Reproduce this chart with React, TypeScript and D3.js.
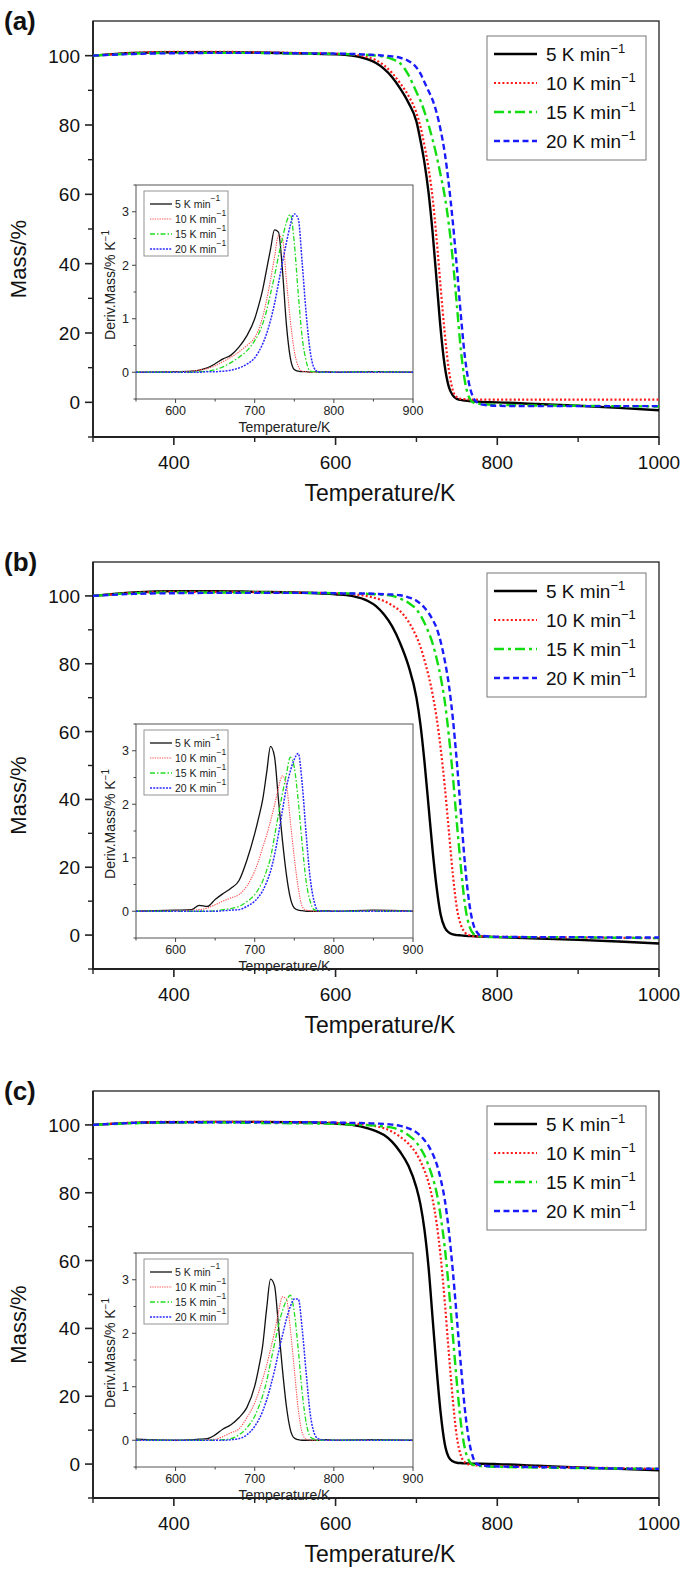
import React from 'react';
import * as d3 from 'd3';

// ---------- DATA ----------
const RATES = ['5', '10', '15', '20'];
const COLORS = ['#000000', '#ff1a1a', '#11dd11', '#1a1aff'];

const X_MAJOR = [400, 600, 800, 1000];
const X_MINOR = [300, 500, 700, 900];
const Y_MAJOR = [0, 20, 40, 60, 80, 100];
const Y_MINOR = [-10, 10, 30, 50, 70, 90];
const IX_MAJOR = [600, 700, 800, 900];
const IX_MINOR = [550, 650, 750, 850];
const IY_MAJOR = [0, 1, 2, 3];
const IY_MINOR = [-0.5, 0.5, 1.5, 2.5, 3.5];

// TG temperature grid (K)
const TG_T = [300, 350, 400, 450, 500, 550, 600, 620, 640, 650, 660, 670, 680, 690, 700, 705, 710, 715, 720, 725, 730, 735, 740, 745, 750, 755, 760, 765, 770, 775, 780, 800, 850, 900, 950, 1000];

// Panel (a) mass %
const TG_A_5 = [100, 100.8, 101.0, 101.0, 100.9, 100.7, 100.4, 100.0, 98.9, 97.9, 96.2, 93.8, 90.5, 86.5, 81, 75.5, 69, 60.5, 49, 35, 21, 10.5, 4.5, 2.0, 1.0, 0.7, 0.5, 0.4, 0.3, 0.2, 0.1, 0, -0.5, -1.0, -1.6, -2.3];
const TG_A_10 = [100, 100.8, 101.1, 101.1, 101.0, 100.8, 100.6, 100.4, 99.5, 98.7, 97.2, 95.0, 92.0, 88.5, 83.5, 79.5, 74, 67.5, 59, 47, 33, 20, 9.5, 3.5, 1.5, 1.0, 0.9, 0.85, 0.8, 0.8, 0.8, 0.8, 0.8, 0.8, 0.8, 0.8];
const TG_A_15 = [100, 100.6, 100.8, 100.8, 100.8, 100.6, 100.5, 100.4, 100.2, 100.0, 99.7, 99.0, 97.8, 94.5, 89.5, 87, 83.8, 80, 75.8, 71, 65.5, 59.5, 51.5, 41, 28, 15, 6, 1.5, 0, -0.3, -0.5, -0.7, -0.9, -1.0, -1.1, -1.2];
const TG_A_20 = [100, 100.5, 100.7, 100.8, 100.8, 100.7, 100.6, 100.5, 100.3, 100.2, 100.0, 99.8, 99.4, 98.5, 96.6, 94.8, 92.3, 89.8, 87.2, 83.5, 78.5, 72, 63, 52, 39, 25, 13, 5.5, 1.5, 0, -0.6, -1.0, -1.1, -1.1, -1.1, -1.1];

// Panel (b) mass %
const TG_B_5 = [100, 101.0, 101.4, 101.4, 101.2, 101.0, 100.5, 100.0, 98.5, 97.0, 94.5, 91.0, 86.0, 79.5, 70, 62, 51, 38, 25, 14, 6, 2.2, 0.8, 0.2, 0, -0.1, -0.2, -0.3, -0.3, -0.4, -0.4, -0.6, -1.0, -1.4, -1.9, -2.5];
const TG_B_10 = [100, 100.9, 101.2, 101.2, 101.1, 101.0, 100.8, 100.5, 99.9, 99.3, 98.5, 97.2, 95.5, 92.5, 88, 85, 81, 76.5, 71, 64, 55, 44, 31, 18, 8, 3, 0.8, 0, -0.3, -0.4, -0.4, -0.5, -0.6, -0.7, -0.8, -0.9];
const TG_B_15 = [100, 100.8, 101.0, 101.0, 101.0, 100.9, 100.8, 100.7, 100.6, 100.5, 100.3, 100.0, 99.2, 98.0, 96.0, 94.3, 92.0, 89.3, 86.0, 81.5, 76, 69, 59, 47, 33, 20, 9, 3, 0.5, -0.2, -0.4, -0.6, -0.6, -0.7, -0.8, -0.9];
const TG_B_20 = [100, 100.6, 100.8, 100.9, 100.9, 100.9, 100.8, 100.7, 100.7, 100.6, 100.5, 100.4, 100.2, 99.6, 98.6, 97.7, 96.5, 95.0, 93, 90.5, 86.5, 81, 74, 64, 51, 36, 21, 10, 3.5, 0.8, -0.2, -0.5, -0.6, -0.6, -0.7, -0.7];

// Panel (c) mass %
const TG_C_5 = [100, 100.6, 100.8, 100.9, 100.9, 100.8, 100.4, 100.0, 99.0, 98.2, 97.0, 95.0, 92.0, 88.0, 81.5, 76.5, 69, 58, 43, 28, 15, 6, 2, 0.8, 0.4, 0.3, 0.2, 0.2, 0.1, 0.1, 0.1, 0, -0.5, -1.0, -1.4, -1.8];
const TG_C_10 = [100, 100.7, 100.9, 100.9, 100.9, 100.8, 100.6, 100.4, 100.0, 99.6, 99.0, 98.0, 96.5, 94.5, 91.5, 89.3, 86.5, 83, 78, 71, 61, 48, 33, 19, 8, 2.5, 0.5, -0.1, -0.3, -0.4, -0.5, -0.6, -0.8, -1.0, -1.2, -1.4];
const TG_C_15 = [100, 100.5, 100.7, 100.7, 100.6, 100.5, 100.3, 100.1, 99.9, 99.8, 99.5, 99.2, 98.4, 97.0, 94.8, 93.1, 91.0, 88.0, 84.5, 80, 73, 64, 52, 38, 24, 12, 4.5, 1, -0.2, -0.4, -0.6, -0.8, -1.0, -1.2, -1.3, -1.4];
const TG_C_20 = [100, 100.6, 100.8, 100.8, 100.8, 100.8, 100.7, 100.6, 100.5, 100.4, 100.3, 100.1, 99.7, 99.0, 97.8, 96.8, 95.5, 93.8, 91.5, 88.5, 84, 78, 69, 57, 43, 29, 16, 7, 2, 0, -0.4, -0.7, -0.9, -1.1, -1.3, -1.4];

// DTG temperature grid (K)
const DTG_T = [550, 600, 620, 630, 640, 650, 660, 670, 680, 690, 700, 705, 710, 715, 720, 725, 730, 735, 740, 745, 750, 755, 760, 765, 770, 775, 780, 790, 800, 850, 900];

// Panel (a) deriv. mass %/K
const DTG_A_5 = [0, 0.01, 0.02, 0.04, 0.08, 0.16, 0.25, 0.32, 0.47, 0.68, 1.0, 1.25, 1.54, 1.92, 2.3, 2.66, 2.62, 1.92, 0.9, 0.27, 0.05, 0.02, 0.01, 0.01, 0, 0.01, 0, 0.01, 0, 0.01, 0];
const DTG_A_10 = [0, 0.01, 0.02, 0.04, 0.07, 0.12, 0.2, 0.28, 0.38, 0.5, 0.65, 0.8, 1.03, 1.35, 1.73, 2.15, 2.55, 2.5, 1.73, 0.97, 0.4, 0.11, 0.02, 0.01, 0, 0, 0, 0.01, 0, 0, 0];
const DTG_A_15 = [0, 0, 0, 0.01, 0.02, 0.05, 0.1, 0.18, 0.28, 0.4, 0.59, 0.72, 0.9, 1.15, 1.47, 1.8, 2.17, 2.5, 2.8, 2.95, 2.42, 1.47, 0.65, 0.21, 0.02, 0.01, 0, 0, 0, 0.01, 0];
const DTG_A_20 = [0, 0, 0, 0, 0.01, 0.01, 0.02, 0.04, 0.08, 0.15, 0.27, 0.38, 0.53, 0.72, 0.97, 1.28, 1.66, 2.05, 2.42, 2.75, 2.96, 2.87, 2.04, 1.1, 0.4, 0.08, 0.01, 0, 0, 0, 0];

// Panel (b)
const DTG_B_5 = [0, 0.02, 0.03, 0.11, 0.09, 0.22, 0.33, 0.43, 0.57, 0.95, 1.45, 1.75, 2.08, 2.58, 3.08, 2.89, 2.08, 1.33, 0.69, 0.25, 0.06, 0.02, 0.01, 0, 0, 0, 0, 0.01, 0, 0.02, 0];
const DTG_B_10 = [0, 0.01, 0.02, 0.03, 0.06, 0.12, 0.19, 0.25, 0.31, 0.47, 0.75, 0.95, 1.19, 1.42, 1.69, 1.98, 2.31, 2.53, 2.37, 1.69, 1.0, 0.44, 0.09, 0.02, 0.01, 0, 0, 0, 0, 0.01, 0];
const DTG_B_15 = [0, 0, 0, 0, 0, 0.01, 0.03, 0.05, 0.09, 0.18, 0.31, 0.42, 0.56, 0.76, 1.0, 1.4, 1.81, 2.2, 2.56, 2.88, 2.69, 2.06, 1.25, 0.56, 0.19, 0.03, 0.01, 0, 0, 0, 0];
const DTG_B_20 = [0, 0, 0, 0, 0, 0, 0.01, 0.02, 0.03, 0.09, 0.19, 0.27, 0.38, 0.54, 0.75, 1.05, 1.44, 1.88, 2.31, 2.62, 2.84, 2.95, 2.38, 1.44, 0.63, 0.19, 0.01, 0, 0, 0, 0];

// Panel (c)
const DTG_C_5 = [0.02, 0, 0.01, 0.02, 0.03, 0.1, 0.21, 0.29, 0.42, 0.61, 1.01, 1.35, 1.76, 2.45, 3.01, 2.89, 2.14, 1.33, 0.64, 0.2, 0.04, 0.01, 0, 0, 0, 0, 0, 0.01, 0, 0.01, 0];
const DTG_C_10 = [0, 0, 0, 0, 0.01, 0.02, 0.07, 0.14, 0.21, 0.42, 0.7, 0.9, 1.14, 1.4, 1.7, 2.02, 2.39, 2.68, 2.64, 2.08, 1.33, 0.58, 0.14, 0.02, 0, 0, 0, 0, 0, 0, 0];
const DTG_C_15 = [0, 0, 0, 0, 0, 0, 0.01, 0.03, 0.1, 0.23, 0.45, 0.62, 0.83, 1.1, 1.45, 1.8, 2.14, 2.42, 2.61, 2.71, 2.39, 1.7, 0.89, 0.33, 0.07, 0.02, 0, 0, 0, 0, 0];
const DTG_C_20 = [0, 0, 0, 0, 0, 0, 0, 0.01, 0.03, 0.1, 0.26, 0.38, 0.54, 0.75, 1.01, 1.3, 1.64, 1.96, 2.26, 2.5, 2.64, 2.64, 2.08, 1.26, 0.51, 0.14, 0.03, 0, 0, 0, 0];

// ---------- LAYOUT ----------
const FONT = "'Liberation Sans', Arial, Helvetica, sans-serif";
const LEFT = 93;
const RIGHT = 659;
const INSET_LEFT = 136;
const INSET_RIGHT = 413;

const PANELS = [
  { label: '(a)', top: 21, bottom: 437, insetTop: 185, legendTop: 36, tg: [TG_A_5, TG_A_10, TG_A_15, TG_A_20], dtg: [DTG_A_5, DTG_A_10, DTG_A_15, DTG_A_20] },
  { label: '(b)', top: 562, bottom: 969, insetTop: 724, legendTop: 573, tg: [TG_B_5, TG_B_10, TG_B_15, TG_B_20], dtg: [DTG_B_5, DTG_B_10, DTG_B_15, DTG_B_20] },
  { label: '(c)', top: 1091, bottom: 1498, insetTop: 1253, legendTop: 1106, tg: [TG_C_5, TG_C_10, TG_C_15, TG_C_20], dtg: [DTG_C_5, DTG_C_10, DTG_C_15, DTG_C_20] },
];

const MAIN_STYLE = [
  { w: 2.4, dash: undefined as string | undefined, cap: 'butt' },
  { w: 2.2, dash: '2,2.2', cap: 'butt' },
  { w: 2.4, dash: '10,4,3,4', cap: 'butt' },
  { w: 2.4, dash: '6,3.5', cap: 'butt' },
];
const INSET_STYLE = [
  { w: 1.3, dash: undefined as string | undefined, color: '#111' },
  { w: 1.1, dash: '1.3,1.1', color: '#ff5050' },
  { w: 1.3, dash: '5,2,1.5,2', color: '#22dd22' },
  { w: 1.5, dash: '2,1.2', color: '#2a2aff' },
];

function Panel({ p }: { p: typeof PANELS[number] }) {
  const x = d3.scaleLinear().domain([300, 1000]).range([LEFT, RIGHT]);
  const y = d3.scaleLinear().domain([-10, 110]).range([p.bottom, p.top]);
  const insetBottom = p.insetTop + 214;
  const ix = d3.scaleLinear().domain([550, 900]).range([INSET_LEFT, INSET_RIGHT]);
  const iy = d3.scaleLinear().domain([-0.5, 3.5]).range([insetBottom, p.insetTop]);

  const tgLine = d3.line<number>().x((_, i) => x(TG_T[i])).y((d) => y(d)).curve(d3.curveMonotoneX);
  const dtgLine = d3.line<number>().x((_, i) => ix(DTG_T[i])).y((d) => iy(d)).curve(d3.curveMonotoneX);

  const midY = (p.top + p.bottom) / 2;
  const legRows = [18, 47, 76, 105];
  const insetLegTop = p.insetTop + 6;
  const insetRows = [13, 28, 43, 58];

  return (
    <g>
      {/* panel label */}
      <text x={4} y={p.top + 9} fontFamily={FONT} fontWeight="bold" fontSize={26} fill="#111">{p.label}</text>

      {/* main frame */}
      <rect x={LEFT} y={p.top} width={RIGHT - LEFT} height={p.bottom - p.top} fill="none" stroke="#222" strokeWidth={1.3} />
      <line x1={LEFT} x2={LEFT} y1={p.top} y2={p.bottom} stroke="#222" strokeWidth={1.8} />
      <line x1={LEFT} x2={RIGHT} y1={p.bottom} y2={p.bottom} stroke="#222" strokeWidth={1.8} />

      {/* x ticks */}
      {X_MAJOR.map((t) => (
        <g key={'xm' + t}>
          <line x1={x(t)} x2={x(t)} y1={p.bottom} y2={p.bottom + 8} stroke="#222" strokeWidth={1.6} />
          <text x={x(t)} y={p.bottom + 32} textAnchor="middle" fontFamily={FONT} fontSize={19} fill="#111">{t}</text>
        </g>
      ))}
      {X_MINOR.map((t) => (
        <line key={'xn' + t} x1={x(t)} x2={x(t)} y1={p.bottom} y2={p.bottom + 5} stroke="#222" strokeWidth={1.4} />
      ))}
      {/* y ticks */}
      {Y_MAJOR.map((t) => (
        <g key={'ym' + t}>
          <line x1={LEFT - 8} x2={LEFT} y1={y(t)} y2={y(t)} stroke="#222" strokeWidth={1.6} />
          <text x={LEFT - 13} y={y(t) + 7} textAnchor="end" fontFamily={FONT} fontSize={19} fill="#111">{t}</text>
        </g>
      ))}
      {Y_MINOR.map((t) => (
        <line key={'yn' + t} x1={LEFT - 5} x2={LEFT} y1={y(t)} y2={y(t)} stroke="#222" strokeWidth={1.4} />
      ))}

      {/* axis titles */}
      <text x={x(650) + 4} y={p.bottom + 64} textAnchor="middle" fontFamily={FONT} fontSize={23} fill="#111">Temperature/K</text>
      <text transform={`translate(26,${midY + 30}) rotate(-90)`} textAnchor="middle" fontFamily={FONT} fontSize={22} fill="#111">Mass/%</text>

      {/* TG curves */}
      {p.tg.map((vals, k) => (
        <path key={'tg' + k} d={tgLine(vals) || ''} fill="none" stroke={COLORS[k]} strokeWidth={MAIN_STYLE[k].w} strokeDasharray={MAIN_STYLE[k].dash} />
      ))}

      {/* main legend */}
      <rect x={487} y={p.legendTop} width={159} height={124} fill="#fff" stroke="#777" strokeWidth={1} />
      {RATES.map((r, k) => (
        <g key={'lg' + k}>
          <line x1={494} x2={537} y1={p.legendTop + legRows[k]} y2={p.legendTop + legRows[k]} stroke={COLORS[k]} strokeWidth={MAIN_STYLE[k].w} strokeDasharray={MAIN_STYLE[k].dash} />
          <text x={546} y={p.legendTop + legRows[k] + 7} fontFamily={FONT} fontSize={19} fill="#111">
            {r} K min<tspan dy={-8} fontSize={13}>−1</tspan>
          </text>
        </g>
      ))}

      {/* inset */}
      <rect x={INSET_LEFT} y={p.insetTop} width={INSET_RIGHT - INSET_LEFT} height={insetBottom - p.insetTop} fill="#fff" stroke="#555" strokeWidth={1} />
      {IX_MAJOR.map((t) => (
        <g key={'ixm' + t}>
          <line x1={ix(t)} x2={ix(t)} y1={insetBottom} y2={insetBottom + 4} stroke="#444" strokeWidth={1} />
          <text x={ix(t)} y={insetBottom + 16} textAnchor="middle" fontFamily={FONT} fontSize={12.5} fill="#222">{t}</text>
        </g>
      ))}
      {IX_MINOR.map((t) => (
        <line key={'ixn' + t} x1={ix(t)} x2={ix(t)} y1={insetBottom} y2={insetBottom + 2.5} stroke="#444" strokeWidth={1} />
      ))}
      {IY_MAJOR.map((t) => (
        <g key={'iym' + t}>
          <line x1={INSET_LEFT - 4} x2={INSET_LEFT} y1={iy(t)} y2={iy(t)} stroke="#444" strokeWidth={1} />
          <text x={INSET_LEFT - 7} y={iy(t) + 4.5} textAnchor="end" fontFamily={FONT} fontSize={12.5} fill="#222">{t}</text>
        </g>
      ))}
      {IY_MINOR.map((t) => (
        <line key={'iyn' + t} x1={INSET_LEFT - 2.5} x2={INSET_LEFT} y1={iy(t)} y2={iy(t)} stroke="#444" strokeWidth={1} />
      ))}
      <text x={(INSET_LEFT + INSET_RIGHT) / 2 + 10} y={insetBottom + 33} textAnchor="middle" fontFamily={FONT} fontSize={14} fill="#222">Temperature/K</text>
      <text transform={`translate(115,${p.insetTop + 100}) rotate(-90)`} textAnchor="middle" fontFamily={FONT} fontSize={14} fill="#222">
        Deriv.Mass/% K<tspan dy={-6} fontSize={10}>−1</tspan>
      </text>

      {p.dtg.map((vals, k) => (
        <path key={'dtg' + k} d={dtgLine(vals) || ''} fill="none" stroke={INSET_STYLE[k].color} strokeWidth={INSET_STYLE[k].w} strokeDasharray={INSET_STYLE[k].dash} />
      ))}

      {/* inset legend */}
      <rect x={144} y={insetLegTop} width={84} height={65} fill="#fff" stroke="#888" strokeWidth={0.9} />
      {RATES.map((r, k) => (
        <g key={'ilg' + k}>
          <line x1={150} x2={172} y1={insetLegTop + insetRows[k]} y2={insetLegTop + insetRows[k]} stroke={INSET_STYLE[k].color} strokeWidth={INSET_STYLE[k].w} strokeDasharray={INSET_STYLE[k].dash} />
          <text x={175} y={insetLegTop + insetRows[k] + 4} fontFamily={FONT} fontSize={10.5} fill="#222">
            {r} K min<tspan dy={-7} fontSize={8.5}>−1</tspan>
          </text>
        </g>
      ))}
    </g>
  );
}

export default function App() {
  return (
    <svg width={685} height={1584} viewBox="0 0 685 1584" style={{ display: 'block', position: 'absolute', left: 0, top: 0, background: '#fff' }}>
      <rect x={0} y={0} width={685} height={1584} fill="#fff" />
      {PANELS.map((p) => (
        <Panel key={p.label} p={p} />
      ))}
    </svg>
  );
}
